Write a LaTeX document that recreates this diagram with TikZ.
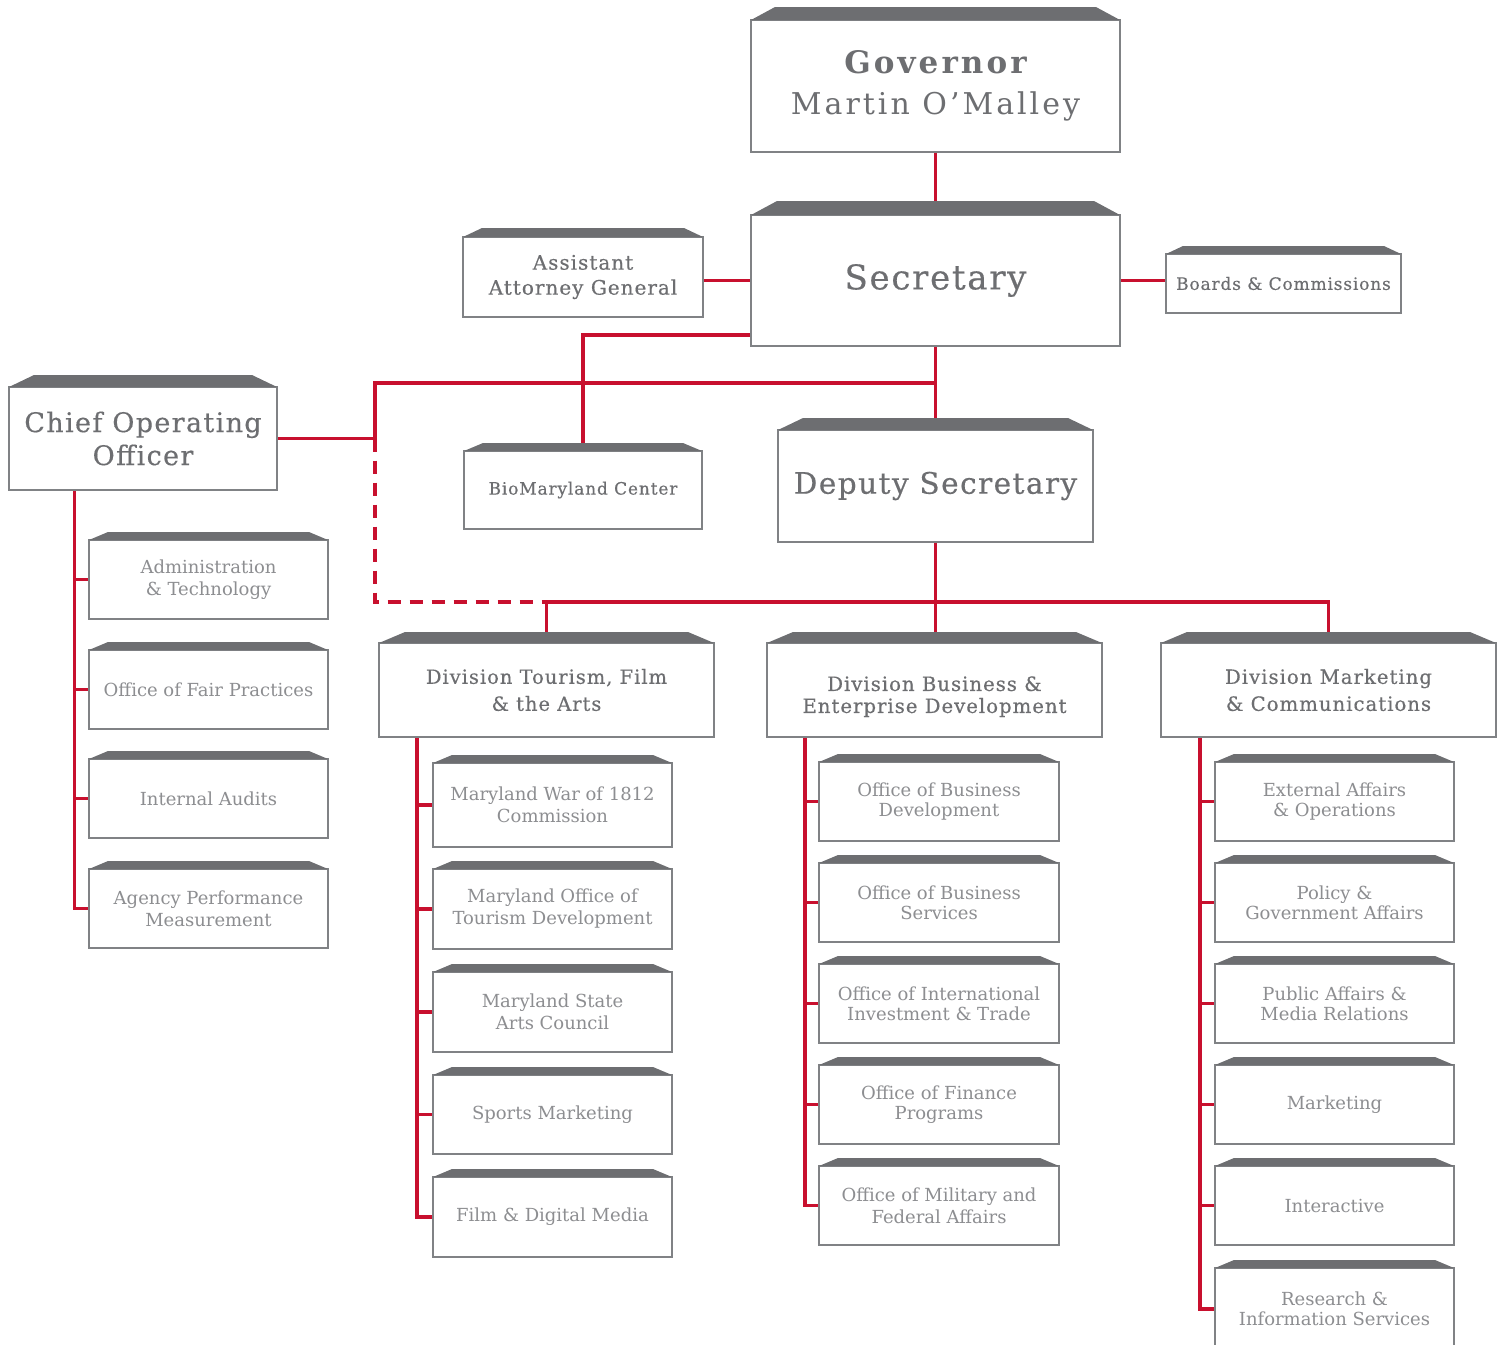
\documentclass[tikz,border=0pt]{standalone}
\usepackage{fontspec}
\setmainfont{DejaVu Serif}
\newfontfamily\headf[LetterSpace=5,FakeBold=0.4]{DejaVu Serif}
\newfontfamily\govf[LetterSpace=10]{DejaVu Serif Bold}
\newfontfamily\martf[LetterSpace=10]{DejaVu Serif}
\newfontfamily\lightf{DejaVu Serif}
\usetikzlibrary{calc}
\pgfdeclarelayer{background}
\pgfsetlayers{background,main}
\definecolor{orgred}{HTML}{C8102E}
\definecolor{bandcol}{HTML}{6D6E71}
\definecolor{boxline}{HTML}{808285}
\definecolor{headcol}{HTML}{6D6E71}
\definecolor{lightcol}{HTML}{8D8E91}
\tikzset{
  obox/.style={draw=boxline, line width=1.4pt, fill=white, outer sep=0pt, inner sep=0pt, align=center, text=headcol},
  kid/.style={text=lightcol, font=\lightf\fontsize{18}{22}\selectfont},
  kidt/.style={text=lightcol, font=\lightf\fontsize{18}{20}\selectfont},
  head/.style 2 args={font=\headf\fontsize{#1}{#2}\selectfont},
  conn/.style={draw=orgred, line width=3.5pt},
  dconn/.style={conn, dash pattern=on 13pt off 9pt},
}
\newcommand{\obx}[9]{%
  \node[obox,#9,minimum width={#4-#2},minimum height={#5-#3}] (#1) at ({(#2+#4)/2},{(#3+#5)/2}) {#8};
  \fill[bandcol] (#1.north west) -- (#1.north east) -- ([xshift=-#7pt,yshift=#6pt]#1.north east) -- ([xshift=#7pt,yshift=#6pt]#1.north west) -- cycle;
}
\begin{document}
\begin{tikzpicture}[x=1pt,y=-1pt]
\useasboundingbox (0,0) rectangle (1504,1344);
% top level
\obx{gov}{751}{20}{1120}{152}{13}{24}{Governor\\\martf\fontsize{30}{41}\selectfont Martin O’Malley}{font=\govf\fontsize{31}{41}\selectfont}
\obx{sec}{751}{215}{1120}{346}{14}{26}{Secretary}{head={34}{40}}
\obx{aag}{463}{237}{703}{317}{9}{19}{Assistant\\Attorney General}{head={20}{25}}
\obx{brd}{1166}{254}{1401}{313}{8}{17}{Boards \& Commissions}{head={17}{20}}
\obx{coo}{9}{387}{277}{490}{12}{25}{Chief Operating\\Officer}{head={27}{33}}
\obx{bio}{464}{451}{702}{529}{8}{19}{BioMaryland Center}{head={17}{20}}
\obx{dep}{778}{430}{1093}{542}{12}{25}{Deputy Secretary}{head={29.5}{35}}
% divisions
\obx{dv1}{379}{643}{714}{737}{11}{26}{Division Tourism, Film\\\& the Arts}{head={19.5}{27}}
\obx{dv2}{767}{643}{1102}{737}{11}{26}{\rule{0pt}{28pt}Division Business \&\\Enterprise Development}{head={19.7}{22}}
\obx{dv3}{1161}{643}{1496}{737}{11}{26}{Division Marketing\\\& Communications}{head={19.7}{27}}
% COO children
\obx{c1}{89}{540}{328}{619}{8}{19}{Administration\\\& Technology}{kid}
\obx{c2}{89}{650}{328}{729}{8}{19}{Office of Fair Practices}{kid}
\obx{c3}{89}{759}{328}{838}{8}{19}{Internal Audits}{kid}
\obx{c4}{89}{869}{328}{948}{8}{19}{Agency Performance\\Measurement}{kid}
% Tourism children
\obx{t1}{433}{763}{672}{847}{8}{19}{Maryland War of 1812\\Commission}{kid}
\obx{t2}{433}{869}{672}{949}{8}{19}{Maryland Office of\\Tourism Development}{kid}
\obx{t3}{433}{972}{672}{1052}{8}{19}{Maryland State\\Arts Council}{kid}
\obx{t4}{433}{1075}{672}{1154}{8}{19}{Sports Marketing}{kid}
\obx{t5}{433}{1177}{672}{1257}{8}{19}{Film \& Digital Media}{kid}
% Business children
\obx{b1}{819}{762}{1059}{841}{8}{19}{Office of Business\\Development}{kidt}
\obx{b2}{819}{863}{1059}{942}{8}{19}{Office of Business\\Services}{kidt}
\obx{b3}{819}{964}{1059}{1043}{8}{19}{Office of International\\Investment \& Trade}{kidt}
\obx{b4}{819}{1065}{1059}{1144}{8}{19}{Office of Finance\\Programs}{kidt}
\obx{b5}{819}{1166}{1059}{1245}{8}{19}{Office of Military and\\Federal Affairs}{kid}
% Marketing children
\obx{m1}{1215}{762}{1454}{841}{8}{19}{External Affairs\\\& Operations}{kidt}
\obx{m2}{1215}{863}{1454}{942}{8}{19}{Policy \&\\Government Affairs}{kidt}
\obx{m3}{1215}{964}{1454}{1043}{8}{19}{Public Affairs \&\\Media Relations}{kidt}
\obx{m4}{1215}{1065}{1454}{1144}{8}{19}{Marketing}{kid}
\obx{m5}{1215}{1166}{1454}{1245}{8}{19}{Interactive}{kid}
\obx{m6}{1215}{1268}{1454}{1350}{8}{19}{Research \&\\Information Services}{kidt}
% junction coordinates
\coordinate (jtop) at (935.5,383);
\coordinate (jcor) at (375,383);
\coordinate (jcoo) at (375,438.5);
\coordinate (hb) at (0,602);
\coordinate (sp0) at (74.5,490);
\coordinate (sp1) at (417,737);
\coordinate (sp2) at (805,737);
\coordinate (sp3) at (1200,737);
\begin{pgfonlayer}{background}
\draw[conn] (gov) -- (sec);
\draw[conn] (sec.west) -- (sec.west -| aag.east);
\draw[conn] (sec.east) -- (sec.east -| brd.west);
\draw[conn] (sec) -- (dep);
\draw[conn] ([yshift=-54.5pt]sec.center) -| (bio);
\draw[conn] (coo) -| (jcor) -- (jtop);
\draw[dconn] (jcoo) |- (dv1 |- hb);
\draw[conn] (dv1) -- (dv1 |- hb) -- (dv3 |- hb) -- (dv3);
\draw[conn] (dep) -- (dep |- dv2);
\draw[conn] (sp0) |- (c4);
\foreach \k in {c1,c2,c3} \draw[conn] (sp0 |- \k) -- (\k);
\draw[conn] (sp1) |- (t5);
\foreach \k in {t1,t2,t3,t4} \draw[conn] (sp1 |- \k) -- (\k);
\draw[conn] (sp2) |- (b5);
\foreach \k in {b1,b2,b3,b4} \draw[conn] (sp2 |- \k) -- (\k);
\draw[conn] (sp3) |- (m6);
\foreach \k in {m1,m2,m3,m4,m5} \draw[conn] (sp3 |- \k) -- (\k);
\end{pgfonlayer}
\end{tikzpicture}
\end{document}
